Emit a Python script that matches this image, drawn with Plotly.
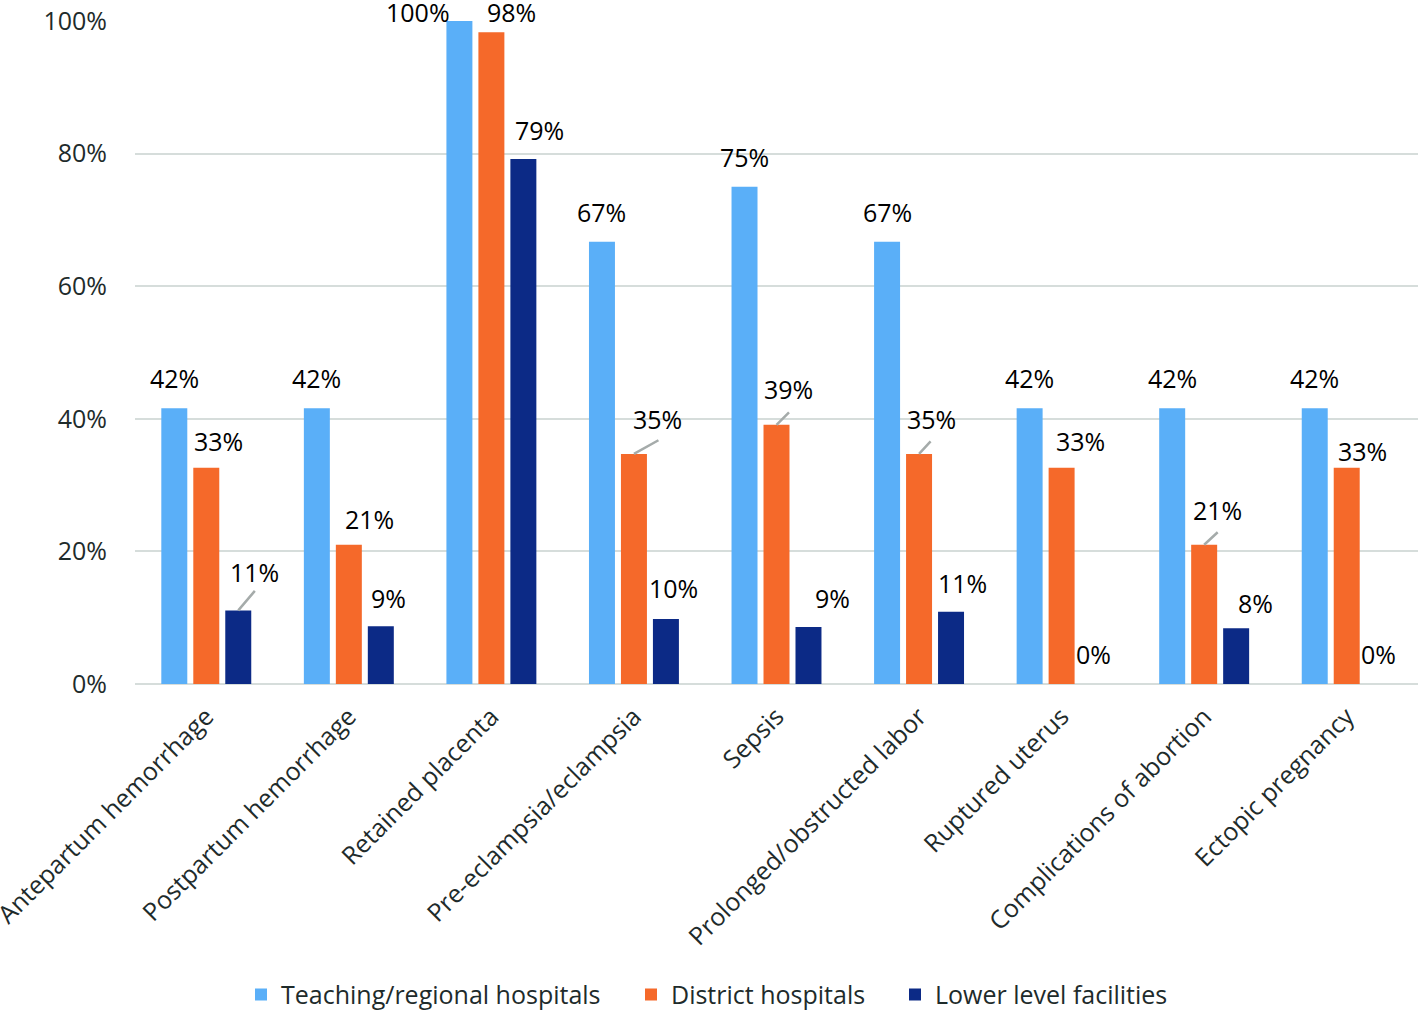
import plotly.graph_objects as go

categories = ["Antepartum hemorrhage", "Postpartum hemorrhage", "Retained placenta",
              "Pre-eclampsia/eclampsia", "Sepsis", "Prolonged/obstructed labor",
              "Ruptured uterus", "Complications of abortion", "Ectopic pregnancy"]
series_names = ["Teaching/regional hospitals", "District hospitals", "Lower level facilities"]
teaching = [0.416, 0.416, 1.00, 0.667, 0.75, 0.667, 0.416, 0.416, 0.416]
district = [0.326, 0.21, 0.983, 0.347, 0.391, 0.347, 0.326, 0.21, 0.326]
lower = [0.111, 0.087, 0.792, 0.098, 0.086, 0.109, 0.0, 0.084, 0.0]
label_text = [
    ["42%", "42%", "100%", "67%", "75%", "67%", "42%", "42%", "42%"],
    ["33%", "21%", "98%", "35%", "39%", "35%", "33%", "21%", "33%"],
    ["11%", "9%", "79%", "10%", "9%", "11%", "0%", "8%", "0%"],
]
y_tick_vals = [0, 0.2, 0.4, 0.6, 0.8, 1.0]
y_tick_text = ["0%", "20%", "40%", "60%", "80%", "100%"]

# styles / label placement (pixels)
colors = ["#5aaff8", "#f5692a", "#0c2a86"]
bar_offsets = [-32, 0, 32]
lab_dx = [
    [0, 0, -41, 0, 0, 0, 0, 0, 0],
    [12, 21, 20, 24, 12, 12, 19, 13, 16],
    [16, 8, 16, 8, 24, 11, 0, 19, 0],
]
lab_dy = [
    [30, 30, 9, 30, 30, 30, 30, 30, 30],
    [27, 26, 20, 35, 36, 35, 27, 35, 17],
    [38, 28, 29, 31, 29, 29, 30, 25, 30],
]
# leader lines: (series, category index, dx px, dy px up)
leader_lines = [(2, 0, 17, 20), (1, 3, 25, 14), (1, 4, 13, 13), (1, 5, 12, 13), (1, 7, 14, 13)]
legend_x_px = [241, 631, 895]
legend_ids = ["legend", "legend2", "legend3"]

FONT = "Open Sans"
FS = 25
TXT = "#1e2b2b"
W, H = 1418, 1011
all_values = [teaching, district, lower]

fig = go.Figure()
for j, (name, vals) in enumerate(zip(series_names, all_values)):
    fig.add_trace(go.Bar(x=categories, y=vals, name=name, legend=legend_ids[j],
                         marker=dict(color=colors[j], line=dict(width=0))))

annotations = []
for (j, i, dx, dy) in leader_lines:
    annotations.append(dict(x=categories[i], y=all_values[j][i], xref="x", yref="y",
                            text="", showarrow=True, arrowhead=0, arrowwidth=2.5,
                            arrowcolor="#a5abaa", ax=dx, ay=-dy, xshift=bar_offsets[j],
                            standoff=0, borderpad=0))
for j, vals in enumerate(all_values):
    for i, cat in enumerate(categories):
        annotations.append(dict(x=cat, y=vals[i], xref="x", yref="y", text=label_text[j][i],
                                font=dict(family=FONT, size=FS, color="#000000"),
                                showarrow=False, xshift=bar_offsets[j] + lab_dx[j][i],
                                yshift=lab_dy[j][i]))

legend_style = dict(orientation="h", xref="container", yref="container",
                    xanchor="left", y=0.016, yanchor="middle",
                    font=dict(family=FONT, size=FS, color=TXT), itemwidth=30,
                    bgcolor="rgba(0,0,0,0)")
layout_legends = {}
for j, lid in enumerate(legend_ids):
    layout_legends[lid] = dict(legend_style, x=legend_x_px[j] / W)

fig.update_layout(
    width=W, height=H,
    margin=dict(l=135, r=0, t=21, b=327, autoexpand=False),
    paper_bgcolor="white", plot_bgcolor="white",
    barmode="group", bargap=0.327, bargroupgap=0.1875,
    font=dict(family=FONT, size=FS, color=TXT),
    annotations=annotations,
    showlegend=True,
    **layout_legends,
)
fig.update_yaxes(range=[0, 1.0], tickvals=y_tick_vals, ticktext=y_tick_text,
                 showgrid=True, gridcolor="#d6dddb", gridwidth=2,
                 zeroline=True, zerolinecolor="#d6dddb", zerolinewidth=2,
                 showline=False, ticks="", ticklabelstandoff=27, automargin=False,
                 tickfont=dict(family=FONT, size=FS, color=TXT))
fig.update_xaxes(tickangle=-45, showline=False, ticks="", ticklabelstandoff=12,
                 automargin=False,
                 tickfont=dict(family=FONT, size=FS, color=TXT))

fig.write_html("out.html", config={"displayModeBar": False},
               post_script="document.body.style.margin='0';document.body.style.overflow='hidden';")
